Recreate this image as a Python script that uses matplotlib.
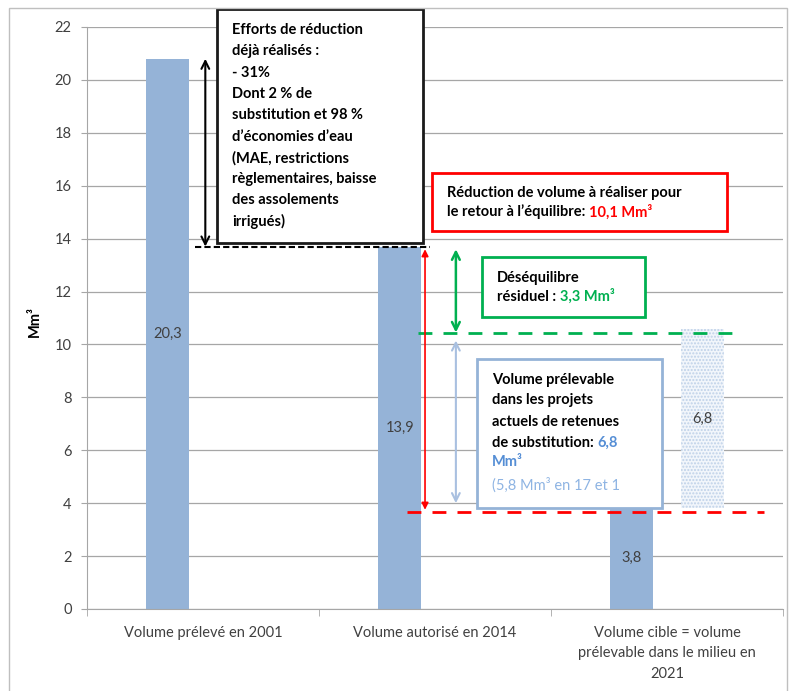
import matplotlib.pyplot as plt
import matplotlib.patches as patches
import numpy as np

# Données
categories = ["Volume prélevé en 2001", "Volume autorisé en 2014",
              "Volume cible = volume\nprélevable dans le milieu en\n2021"]
volumes = [20.8, 13.7, 3.85]
volumes_labels = ["20,3", "13,9", "3,8"]
substitution = [0, 0, 6.8]
substitution_bas = [0, 0, 3.8]
substitution_labels = ["", "", "6,8"]

# niveaux de référence pour les flèches / pointillés
niveau_2014 = 13.7
niveau_residuel = 10.45
niveau_cible = 3.65

plt.rcParams['font.family'] = ['Lato', 'DejaVu Sans']

bleu = '#95b3d7'
gris_txt = '#404040'

fig = plt.figure(figsize=(7.95, 6.91), dpi=100)
ax = fig.add_axes([87/795, 82/691, 696/795, 582/691])

x = np.arange(len(categories))
w = 0.185
off = 0.152

b1 = ax.bar(x - off, volumes, width=w, color=bleu, zorder=2)
plt.rcParams['hatch.linewidth'] = 1.0
b2 = ax.bar(x + off, substitution, bottom=substitution_bas, width=w,
            color='#f2f6fb', hatch='.....', edgecolor='#bfd1e8', lw=0, zorder=2)
ax.bar_label(b1, labels=volumes_labels, label_type='center', fontsize=10.5, color=gris_txt)
ax.bar_label(b2, labels=substitution_labels, label_type='center', fontsize=10.5, color=gris_txt)

# axes
ax.set_xlim(-0.5, 2.5)
ax.set_ylim(0, 22)
ax.set_yticks(range(0, 23, 2))
ax.yaxis.grid(True, color='#a6a6a6', lw=0.9, zorder=0)
ax.set_axisbelow(True)
for s in ['top', 'right']:
    ax.spines[s].set_visible(False)
for s in ['left', 'bottom']:
    ax.spines[s].set_color('#a6a6a6')
ax.set_xticks(x)
ax.set_xticklabels(categories, fontsize=10.5, color=gris_txt)
for lbl in ax.get_xticklabels():
    lbl.set_linespacing(1.6)
ax.set_xticks([-0.5, 0.5, 1.5, 2.5], minor=True)
ax.tick_params(axis='x', which='major', length=0, pad=12)
ax.tick_params(axis='x', which='minor', length=5, color='#a6a6a6')
ax.tick_params(axis='y', length=4, color='#a6a6a6', pad=7, labelsize=10.5, labelcolor=gris_txt)
fig.text(35/795, 1 - 322/691, "Mm³", rotation=90, fontsize=10.5, fontweight='bold',
         ha='center', va='center')

# pointillés horizontaux
ax.plot([-0.034, 0.98], [niveau_2014, niveau_2014], color='black', lw=1.5,
        ls=(0, (3, 1.5)), zorder=3)
ax.plot([0.927, 2.31], [niveau_residuel, niveau_residuel], color='#00b050', lw=2,
        ls=(0, (5, 4)), zorder=3)
ax.plot([0.88, 2.42], [niveau_cible, niveau_cible], color='#ff0000', lw=2,
        ls=(0, (5, 4)), zorder=3)

# flèches
def fleche(xp, y1, y2, couleur, style='<->', lw=1.5, ms=14):
    ax.annotate("", xy=(xp, y1), xytext=(xp, y2),
                arrowprops=dict(arrowstyle=style, color=couleur, lw=lw,
                                shrinkA=0, shrinkB=0, mutation_scale=ms), zorder=4)

fleche(0.01, volumes[0], niveau_2014, 'black')
fleche(0.957, niveau_2014 - 0.1, niveau_cible + 0.1, '#ff0000', style='<|-|>', lw=1.2, ms=10)
fleche(1.09, niveau_2014 - 0.1, niveau_residuel, '#00b050', lw=1.8)
fleche(1.09, niveau_residuel - 0.3, substitution_bas[2] + 0.2, '#a9c0e0', lw=1.5)

# encadrés
def boite(x0, x1, y0, y1, couleur):
    r = patches.Rectangle((x0, y0), x1 - x0, y1 - y0, facecolor='white',
                          edgecolor=couleur, lw=2, zorder=5, clip_on=False)
    ax.add_patch(r)

def lignes(xp, ys, textes, couleur='black', poids='bold'):
    objs = []
    for yy, t in zip(ys, textes):
        objs.append(ax.text(xp, yy, t, fontsize=10.5, fontweight=poids, color=couleur,
                            va='center', ha='left', zorder=6, clip_on=False))
    return objs

def suite(obj, texte, couleur, poids='bold'):
    return ax.annotate(texte, xy=(1, 0), xycoords=obj, va='bottom', ha='left',
                       fontsize=10.5, fontweight=poids, color=couleur, zorder=6,
                       annotation_clip=False)

# boîte noire
boite(0.06, 0.948, 13.84, 22.68, '#1a1a1a')
txt_noir = ["Efforts de réduction", "déjà réalisés :", "- 31%", "Dont 2 % de",
            "substitution et 98 %", "d\u2019économies d\u2019eau", "(MAE, restrictions",
            "règlementaires, baisse", "des assolements", "irrigués)"]
y0 = 21.89
lignes(0.125, [y0 - i * 0.806 for i in range(len(txt_noir))], txt_noir)

# boîte rouge
boite(0.987, 2.259, 14.29, 16.48, '#ff0000')
t = lignes(1.052, [15.73, 15.01], ["Réduction de volume à réaliser pour",
                                  "le retour à l\u2019équilibre: "])
suite(t[1], "10,1 Mm³", '#ff0000')

# boîte verte
boite(1.203, 1.905, 11.04, 13.31, '#00b050')
t = lignes(1.267, [12.51, 11.80], ["Déséquilibre", "résiduel : "])
suite(t[1], "3,3 Mm³", '#00b050')

# boîte bleue
boite(1.181, 1.978, 3.82, 9.45, bleu)
t = lignes(1.246, [8.66, 7.90, 7.07, 6.28], ["Volume prélevable", "dans les projets",
                                            "actuels de retenues", "de substitution: "])
suite(t[3], "6,8", '#558ed5')
lignes(1.246, [5.56], ["Mm³"], couleur='#558ed5')
t = lignes(1.246, [4.69], ["(5,8 Mm³ en 17 et 1"], couleur='#8eb4e3', poids='normal')
t[0].set_clip_path(patches.Rectangle((1.181, 3.82), 1.978 - 1.181, 9.45 - 3.82,
                                     transform=ax.transData))
t[0].set_clip_on(True)

# cadre extérieur
fig.patches.append(patches.Rectangle((9/795, -0.02), 778/795, 1.02 - 8/691,
                                     transform=fig.transFigure, fill=False,
                                     edgecolor='#bfbfbf', lw=1))

fig.savefig("out.png", dpi=100)
